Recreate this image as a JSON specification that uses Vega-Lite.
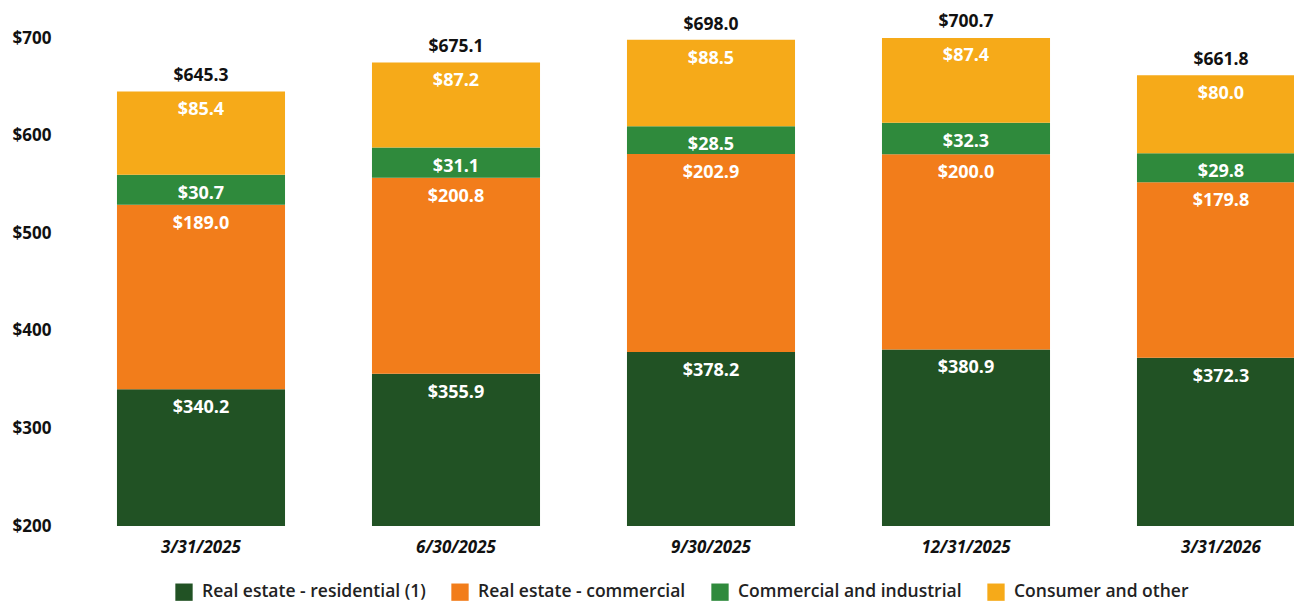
{
  "$schema": "https://vega.github.io/schema/vega-lite/v6.json",
  "width": 1275,
  "height": 488,
  "autosize": {"type": "none"},
  "padding": {"left": 73.5, "top": 38, "right": 0, "bottom": 77},
  "background": "white",
  "config": {"view": {"stroke": null}, "font": "Open Sans"},
  "datasets": {
    "segments": [
      {"date": "3/31/2025", "category": "Real estate - residential (1)", "value": 340.2, "order": 1},
      {"date": "3/31/2025", "category": "Real estate - commercial", "value": 189.0, "order": 2},
      {"date": "3/31/2025", "category": "Commercial and industrial", "value": 30.7, "order": 3},
      {"date": "3/31/2025", "category": "Consumer and other", "value": 85.4, "order": 4},
      {"date": "6/30/2025", "category": "Real estate - residential (1)", "value": 355.9, "order": 1},
      {"date": "6/30/2025", "category": "Real estate - commercial", "value": 200.8, "order": 2},
      {"date": "6/30/2025", "category": "Commercial and industrial", "value": 31.1, "order": 3},
      {"date": "6/30/2025", "category": "Consumer and other", "value": 87.2, "order": 4},
      {"date": "9/30/2025", "category": "Real estate - residential (1)", "value": 378.2, "order": 1},
      {"date": "9/30/2025", "category": "Real estate - commercial", "value": 202.9, "order": 2},
      {"date": "9/30/2025", "category": "Commercial and industrial", "value": 28.5, "order": 3},
      {"date": "9/30/2025", "category": "Consumer and other", "value": 88.5, "order": 4},
      {"date": "12/31/2025", "category": "Real estate - residential (1)", "value": 380.9, "order": 1},
      {"date": "12/31/2025", "category": "Real estate - commercial", "value": 200.0, "order": 2},
      {"date": "12/31/2025", "category": "Commercial and industrial", "value": 32.3, "order": 3},
      {"date": "12/31/2025", "category": "Consumer and other", "value": 87.4, "order": 4},
      {"date": "3/31/2026", "category": "Real estate - residential (1)", "value": 372.3, "order": 1},
      {"date": "3/31/2026", "category": "Real estate - commercial", "value": 179.8, "order": 2},
      {"date": "3/31/2026", "category": "Commercial and industrial", "value": 29.8, "order": 3},
      {"date": "3/31/2026", "category": "Consumer and other", "value": 80.0, "order": 4}
    ],
    "totals": [
      {"date": "3/31/2025", "total": 645.3},
      {"date": "6/30/2025", "total": 675.1},
      {"date": "9/30/2025", "total": 698.0},
      {"date": "12/31/2025", "total": 700.7},
      {"date": "3/31/2026", "total": 661.8}
    ]
  },
  "layer": [
    {
      "data": {"name": "segments"},
      "mark": {"type": "bar", "clip": true},
      "encoding": {
        "x": {
          "field": "date", "type": "nominal",
          "sort": ["3/31/2025", "6/30/2025", "9/30/2025", "12/31/2025", "3/31/2026"],
          "scale": {"paddingInner": 0.341, "paddingOuter": 0.1705},
          "axis": {"title": null, "ticks": false, "domain": false, "labelAngle": 0, "labelPadding": 13, "labelFontSize": 17, "labelFontWeight": "bold", "labelFontStyle": "italic", "labelColor": "#111111"}
        },
        "y": {
          "field": "value", "type": "quantitative", "stack": "zero",
          "scale": {"domain": [200, 700], "nice": false, "zero": false},
          "axis": {"title": null, "values": [200, 300, 400, 500, 600, 700], "format": "$,d", "ticks": false, "domain": false, "grid": false, "labelAlign": "left", "labelPadding": 61.5, "labelFontSize": 17, "labelFontWeight": "bold", "labelColor": "#111111"}
        },
        "order": {"field": "order", "type": "quantitative"},
        "color": {
          "field": "category", "type": "nominal",
          "scale": {
            "domain": ["Real estate - residential (1)", "Real estate - commercial", "Commercial and industrial", "Consumer and other"],
            "range": ["#215224", "#F27D1B", "#2F8A3C", "#F6AA19"]
          },
          "legend": {"orient": "none", "legendX": 101.5, "legendY": 545, "direction": "horizontal", "title": null, "symbolType": "square", "symbolSize": 300, "symbolStrokeWidth": 0, "labelFontSize": 17.5, "labelFontWeight": 600, "labelColor": "#222222", "labelLimit": 0, "columnPadding": 25, "labelOffset": 9}
        }
      }
    },
    {
      "data": {"name": "segments"},
      "transform": [
        {"stack": "value", "groupby": ["date"], "sort": [{"field": "order", "order": "ascending"}], "as": ["v0", "v1"]}
      ],
      "mark": {"type": "text", "baseline": "top", "dy": 10, "color": "#ffffff", "fontSize": 18, "fontWeight": "bold"},
      "encoding": {
        "x": {"field": "date", "type": "nominal", "sort": ["3/31/2025", "6/30/2025", "9/30/2025", "12/31/2025", "3/31/2026"]},
        "y": {"field": "v1", "type": "quantitative"},
        "text": {"field": "value", "type": "quantitative", "format": "$,.1f"}
      }
    },
    {
      "data": {"name": "totals"},
      "mark": {"type": "text", "baseline": "bottom", "dy": -6, "color": "#111111", "fontSize": 17.5, "fontWeight": "bold"},
      "encoding": {
        "x": {"field": "date", "type": "nominal", "sort": ["3/31/2025", "6/30/2025", "9/30/2025", "12/31/2025", "3/31/2026"]},
        "y": {"field": "total", "type": "quantitative"},
        "text": {"field": "total", "type": "quantitative", "format": "$,.1f"}
      }
    }
  ]
}
